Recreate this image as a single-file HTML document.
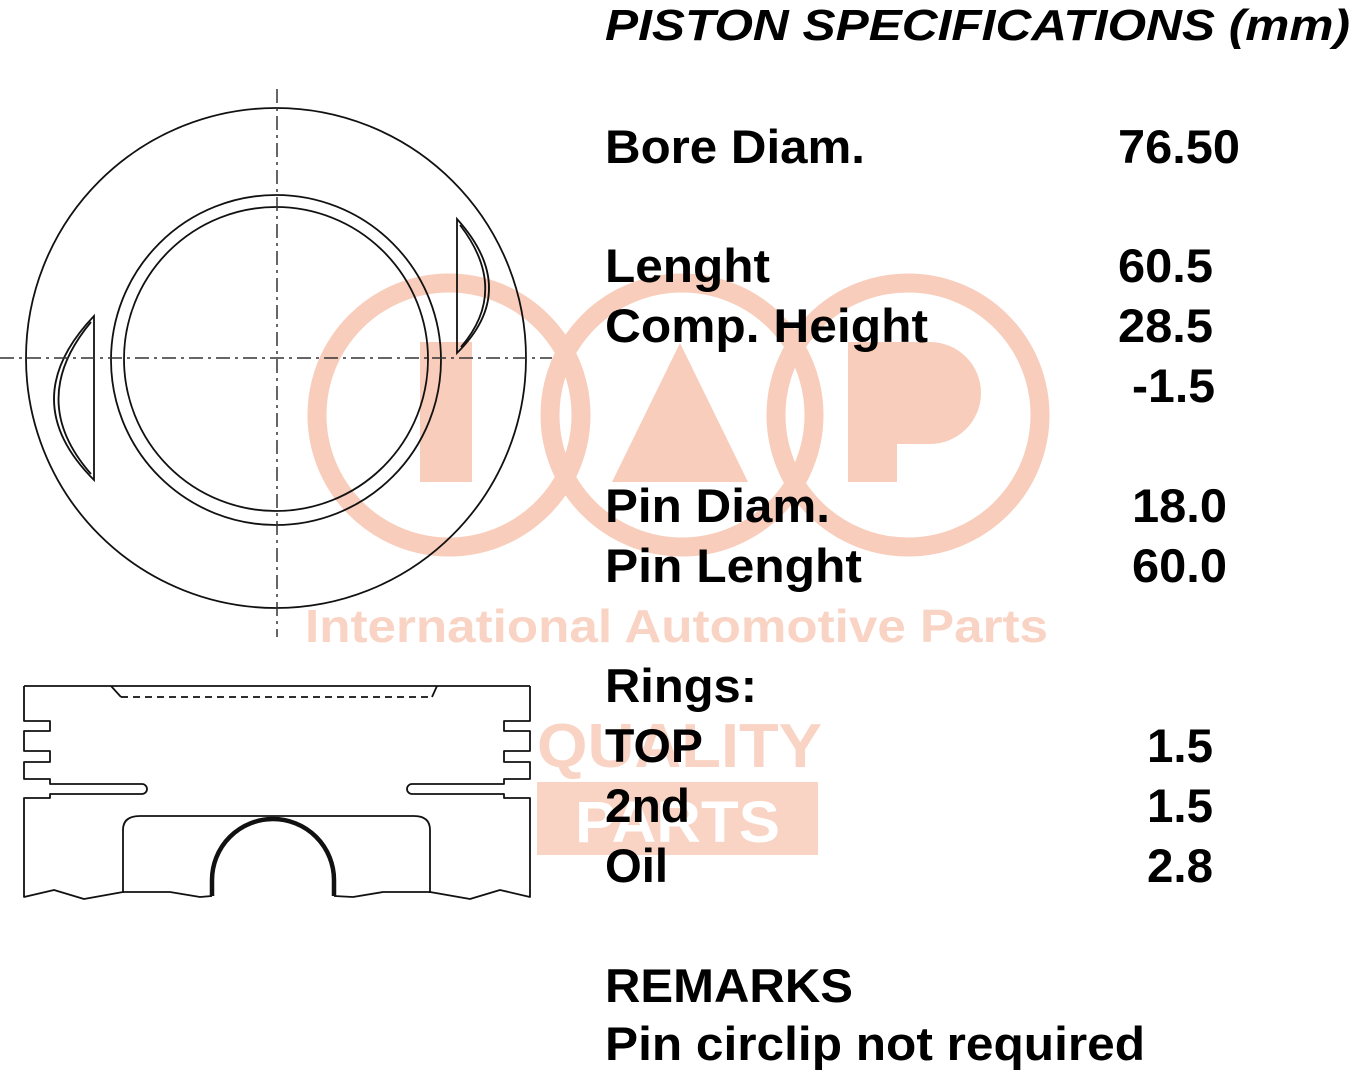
<!DOCTYPE html>
<html><head><meta charset="utf-8"><style>html,body{margin:0;padding:0;background:#fff}svg{display:block}</style></head>
<body>
<svg width="1354" height="1080" viewBox="0 0 1354 1080" xmlns="http://www.w3.org/2000/svg">
<g fill="none" stroke="#f8cdbb" stroke-width="19">
<circle cx="449" cy="415" r="132"/>
<circle cx="682" cy="415" r="132"/>
<circle cx="908" cy="415" r="132"/>
</g>
<g fill="#f8cdbb">
<rect x="420" y="342" width="52" height="140"/>
<polygon points="680,343 612,482 748,482"/>
<path d="M848,342 H930 A51,51 0 0 1 930,444 H897 V482 H848 Z"/>
</g>
<text x="305" y="642" font-family="Liberation Sans, sans-serif" font-weight="bold" font-size="46" fill="#f9d3c4" textLength="743" lengthAdjust="spacingAndGlyphs">International Automotive Parts</text>
<text x="537" y="767" font-family="Liberation Sans, sans-serif" font-weight="bold" font-size="62" fill="#f9d3c4" textLength="285" lengthAdjust="spacingAndGlyphs">QUALITY</text>
<rect x="537" y="782" width="281" height="73" fill="#f9d3c4"/>
<text x="575" y="842" font-family="Liberation Sans, sans-serif" font-weight="bold" font-size="58" fill="#fff" textLength="205" lengthAdjust="spacingAndGlyphs">PARTS</text>

<g fill="none" stroke="#111" stroke-width="1.8">
<circle cx="276" cy="358" r="250"/>
<circle cx="276" cy="360" r="165"/>
<circle cx="276" cy="359" r="152"/>
<path d="M94,316 V480 Q14,400 94,316 Z"/>
<path d="M91,322 Q26,400 91,474"/>
<path d="M457,219 V353 Q521,290 457,219 Z"/>
<path d="M460,225 Q510,290 461,347"/>
</g>
<g stroke="#333" stroke-width="1.5" stroke-dasharray="14,5,3,5">
<line x1="0" y1="358" x2="552" y2="358"/>
<line x1="277" y1="89" x2="277" y2="637"/>
</g>

<g fill="none" stroke="#111" stroke-width="1.8" stroke-linejoin="round">
<path d="M24,686 H530"/>
<path d="M111,686 L121,697 M437,686 L432,697"/>
<path d="M121,697 H432" stroke-dasharray="7,5"/>
<path d="M24,686 V721 H50 V731 H24 V751 H50 V762 H24 V779 H50 V784 H142 A5,5 0 0 1 142,794 H50 V798 H24 V897 L54,890 L84,899 L123,892 L170,892 L200,897 L212,896"/>
<path d="M530,686 V721 H504 V731 H530 V751 H504 V762 H530 V779 H504 V784 H412 A5,5 0 0 0 412,794 H504 V798 H530 V897 L500,890 L470,899 L430,892 L383,892 L353,897 L334,896"/>
<path d="M123,893 V830 Q123,816 140,816 H414 Q430,816 430,830 V893"/>
</g>
<path d="M212,896 V880 A61,61 0 0 1 334,880 V896" fill="none" stroke="#111" stroke-width="4.5"/>

<g font-family="Liberation Sans, Arial, sans-serif" font-weight="bold" fill="#000" font-size="47">
<text x="605" y="40" font-style="italic" font-size="44" textLength="745" lengthAdjust="spacingAndGlyphs">PISTON SPECIFICATIONS (mm)</text>
<text x="605" y="163" textLength="260" lengthAdjust="spacingAndGlyphs">Bore Diam.</text>
<text x="605" y="282" textLength="165" lengthAdjust="spacingAndGlyphs">Lenght</text>
<text x="605" y="342" textLength="323" lengthAdjust="spacingAndGlyphs">Comp. Height</text>
<text x="605" y="522" textLength="225" lengthAdjust="spacingAndGlyphs">Pin Diam.</text>
<text x="605" y="582" textLength="257" lengthAdjust="spacingAndGlyphs">Pin Lenght</text>
<text x="605" y="702" textLength="152" lengthAdjust="spacingAndGlyphs">Rings:</text>
<text x="605" y="762" textLength="98" lengthAdjust="spacingAndGlyphs">TOP</text>
<text x="605" y="822" textLength="85" lengthAdjust="spacingAndGlyphs">2nd</text>
<text x="605" y="882" textLength="63" lengthAdjust="spacingAndGlyphs">Oil</text>
<text x="605" y="1002" textLength="248" lengthAdjust="spacingAndGlyphs">REMARKS</text>
<text x="605" y="1060" textLength="540" lengthAdjust="spacingAndGlyphs">Pin circlip not required</text>
<text x="1118" y="163" textLength="122" lengthAdjust="spacingAndGlyphs">76.50</text>
<text x="1118" y="282" textLength="95" lengthAdjust="spacingAndGlyphs">60.5</text>
<text x="1118" y="342" textLength="95" lengthAdjust="spacingAndGlyphs">28.5</text>
<text x="1132" y="402" textLength="83" lengthAdjust="spacingAndGlyphs">-1.5</text>
<text x="1132" y="522" textLength="95" lengthAdjust="spacingAndGlyphs">18.0</text>
<text x="1132" y="582" textLength="95" lengthAdjust="spacingAndGlyphs">60.0</text>
<text x="1147" y="762" textLength="66" lengthAdjust="spacingAndGlyphs">1.5</text>
<text x="1147" y="822" textLength="66" lengthAdjust="spacingAndGlyphs">1.5</text>
<text x="1147" y="882" textLength="66" lengthAdjust="spacingAndGlyphs">2.8</text>
</g>
</svg>
</body></html>
